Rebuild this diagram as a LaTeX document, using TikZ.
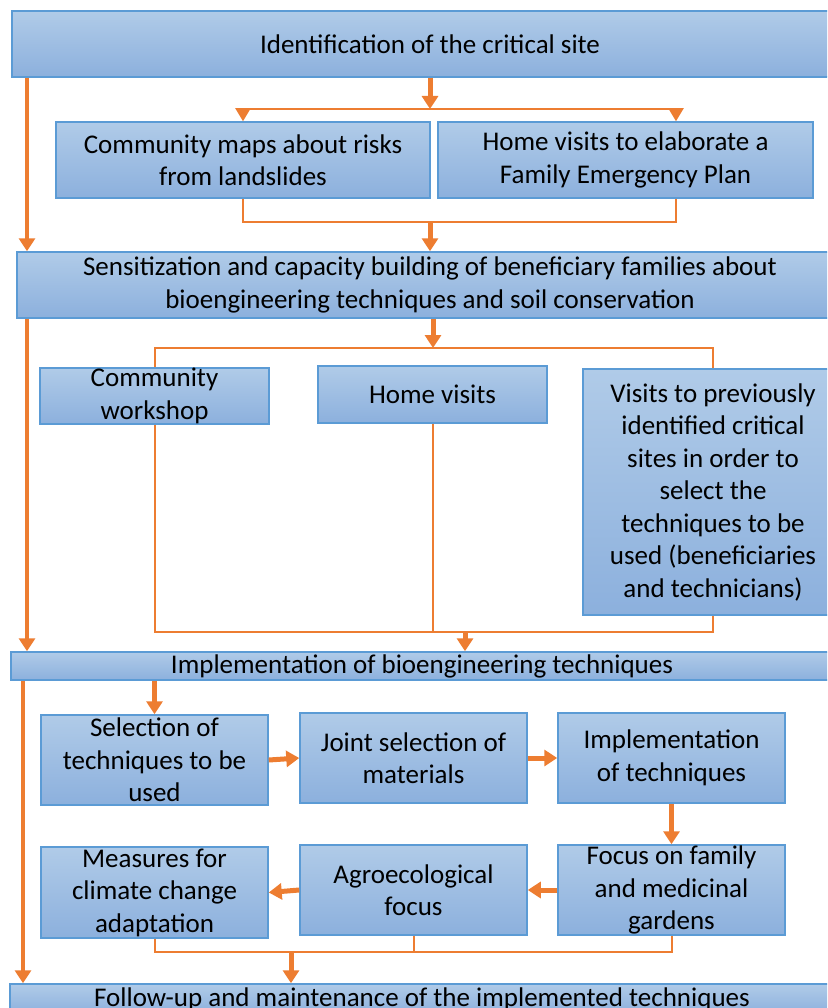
\documentclass[tikz,border=0pt]{standalone}
\usepackage{fontspec}
\setmainfont{Carlito}
\usetikzlibrary{arrows.meta}
\definecolor{boxtop}{HTML}{B0CBE8}
\definecolor{boxbot}{HTML}{8CB0DD}
\definecolor{boxline}{HTML}{5B9BD5}
\definecolor{flowor}{HTML}{ED7D31}

\begin{document}
\begin{tikzpicture}[x=1pt, y=-1pt,
  box/.style={draw=boxline, line width=1.5pt, top color=boxtop, bottom color=boxbot,
    align=center, inner sep=0pt, font=\fontsize{27}{32.5}\selectfont},
  link/.style={draw=flowor, line width=2pt},
  linkarrow/.style={link, -{Triangle[length=13pt,width=15pt]}},
  bold/.style={draw=flowor, line width=5pt, -{Triangle[length=13pt,width=16pt]}},
  trunk/.style={draw=flowor, line width=4pt, -{Triangle[length=13pt,width=16pt]}}]
  \useasboundingbox (0,0) rectangle (827,1008);
  \clip (0,0) rectangle (827,1008);
  \node[box, minimum width=836pt, minimum height=66pt] (site) at (430,44)
    {Identification of the critical site};
  \node[box, minimum width=374pt, minimum height=76pt] (maps) at (243,160)
    {Community maps about risks\\from landslides};
  \node[box, minimum width=375pt, minimum height=76pt] (plan) at (625.5,160)
    {Home visits to elaborate a\\Family Emergency Plan};
  \node[box, minimum width=826pt, minimum height=66pt] (sens) at (430,285)
    {Sensitization and capacity building of beneficiary families about\\bioengineering techniques and soil conservation};
  \node[box, minimum width=229pt, minimum height=56pt] (shop) at (154.5,396)
    {Community\\workshop};
  \node[box, minimum width=229pt, minimum height=57pt] (home) at (432.5,394.5)
    {Home visits};
  \node[box, minimum width=260pt, minimum height=246pt] (visit) at (713,492)
    {Visits to previously\\identified critical\\sites in order to\\select the\\techniques to be\\used (beneficiaries\\and technicians)};
  \node[box, minimum width=822pt, minimum height=28pt] (impl) at (422,666)
    {Implementation of bioengineering techniques};
  \node[box, minimum width=227pt, minimum height=90pt] (sel) at (154.5,760)
    {Selection of\\techniques to be\\used};
  \node[box, minimum width=227pt, minimum height=90pt] (joint) at (413.5,758)
    {Joint selection of\\materials};
  \node[box, minimum width=227pt, minimum height=90pt] (tech) at (671.5,758)
    {Implementation\\of techniques};
  \node[box, minimum width=227pt, minimum height=91pt] (meas) at (154.5,892.5)
    {Measures for\\climate change\\adaptation};
  \node[box, minimum width=227pt, minimum height=90pt] (agro) at (413.5,890)
    {Agroecological\\focus};
  \node[box, minimum width=227pt, minimum height=90pt] (focus) at (671.5,890)
    {Focus on family\\and medicinal\\gardens};
  \node[box, minimum width=824pt, minimum height=30pt] (follow) at (422,999)
    {Follow-up and maintenance of the implemented techniques};

  % left lane
  \coordinate (laneA) at (27,0);
  \coordinate (laneB) at (23,0);
  \draw[trunk] (site.south -| laneA) -- (sens.north -| laneA);
  \draw[trunk] (sens.south -| laneA) -- (impl.north -| laneA);
  \draw[trunk] (impl.south -| laneB) -- (follow.north -| laneB);

  % branch points
  \coordinate (b1) at (430,109);
  \coordinate (b1r) at (676,109);
  \coordinate (m1) at (430,222);
  \coordinate (b2) at (433,348);
  \coordinate (m2) at (465,632);
  \coordinate (m3) at (291,952);

  \draw[linkarrow] (b1) -| (maps.north);
  \draw[linkarrow] (b1) -| (b1r |- plan.north);
  \draw[bold] (site.south) -- (b1);
  \draw[link] (maps.south) |- (m1);
  \draw[link] (b1r |- plan.south) |- (m1);
  \draw[bold] (m1) -- (sens.north);

  \draw[link] (shop.north) |- (b2) -| (visit.north);
  \draw[bold] (sens.south -| b2) -- (b2);
  \draw[link] (shop.south) |- (m2) -| (visit.south);
  \draw[link] (home.south) -- (home.south |- m2);
  \draw[bold] (m2) -- (impl.north -| m2);

  \draw[bold] (impl.south -| sel.north) -- (sel.north);
  \draw[bold] (sel.east) -- (joint.west);
  \draw[bold] (joint.east) -- (tech.west);
  \draw[bold] (tech.south) -- (focus.north);
  \draw[bold] (focus.west) -- (agro.east);
  \draw[bold] (agro.west) -- (meas.east);

  \draw[link] (meas.south) |- (m3) -| (focus.south);
  \draw[link] (agro.south) -- (agro.south |- m3);
  \draw[bold] (m3) -- (follow.north -| m3);
\end{tikzpicture}
\end{document}
